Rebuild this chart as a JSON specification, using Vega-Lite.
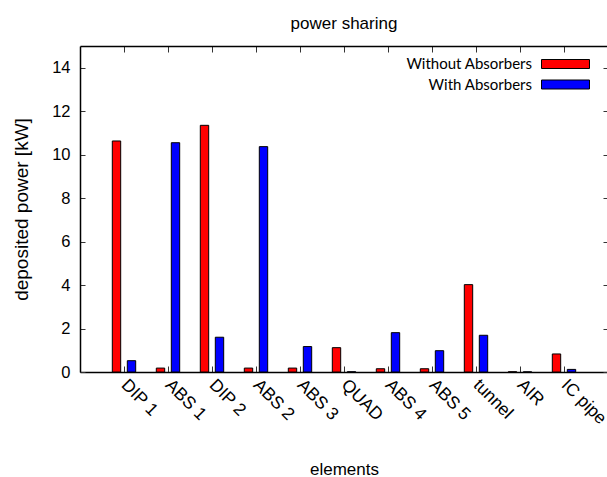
{
  "$schema": "https://vega.github.io/schema/vega-lite/v6.json",
  "autosize": "none",
  "width": 528,
  "height": 326,
  "padding": {"left": 80, "top": 46, "right": 0, "bottom": 105},
  "background": "white",
  "title": {"text": "power sharing", "font": "Liberation Sans", "fontSize": 17, "fontWeight": "normal", "color": "black", "offset": 13},
  "config": {
    "view": {"stroke": null},
    "axis": {"labelFont": "Liberation Sans", "titleFont": "Liberation Sans", "labelColor": "black", "titleColor": "black", "grid": false, "domainColor": "black", "tickColor": "#333"}
  },
  "data": {"values": [
    {"element": "DIP 1", "series": "Without Absorbers", "power": 10.63},
    {"element": "DIP 1", "series": "With Absorbers", "power": 0.52},
    {"element": "ABS 1", "series": "Without Absorbers", "power": 0.18},
    {"element": "ABS 1", "series": "With Absorbers", "power": 10.55},
    {"element": "DIP 2", "series": "Without Absorbers", "power": 11.35},
    {"element": "DIP 2", "series": "With Absorbers", "power": 1.6},
    {"element": "ABS 2", "series": "Without Absorbers", "power": 0.18},
    {"element": "ABS 2", "series": "With Absorbers", "power": 10.37},
    {"element": "ABS 3", "series": "Without Absorbers", "power": 0.18},
    {"element": "ABS 3", "series": "With Absorbers", "power": 1.17},
    {"element": "QUAD", "series": "Without Absorbers", "power": 1.12},
    {"element": "QUAD", "series": "With Absorbers", "power": 0.01},
    {"element": "ABS 4", "series": "Without Absorbers", "power": 0.15},
    {"element": "ABS 4", "series": "With Absorbers", "power": 1.81},
    {"element": "ABS 5", "series": "Without Absorbers", "power": 0.15},
    {"element": "ABS 5", "series": "With Absorbers", "power": 0.98},
    {"element": "tunnel", "series": "Without Absorbers", "power": 4.02},
    {"element": "tunnel", "series": "With Absorbers", "power": 1.69},
    {"element": "AIR", "series": "Without Absorbers", "power": 0.01},
    {"element": "AIR", "series": "With Absorbers", "power": 0.005},
    {"element": "IC pipe", "series": "Without Absorbers", "power": 0.83},
    {"element": "IC pipe", "series": "With Absorbers", "power": 0.12}
  ]},
  "layer": [
    {
      "mark": {"type": "bar", "stroke": "black", "strokeWidth": 1},
      "encoding": {
        "x": {"field": "element", "type": "nominal", "sort": null,
          "scale": {"paddingInner": 0, "paddingOuter": 0.5},
          "axis": {"orient": "bottom", "title": "elements", "titleFontSize": 17, "titleFontWeight": "normal", "titleY": 102, "titleBaseline": "alphabetic",
            "labelAngle": 45, "labelAlign": "left", "labelBaseline": "middle", "labelFontSize": 17.5, "labelPadding": 16,
            "tickSize": -6, "domainWidth": 1.5}},
        "xOffset": {"field": "series", "type": "nominal", "sort": ["Without Absorbers", "With Absorbers"],
          "scale": {"paddingInner": 0.44, "paddingOuter": 0.687}},
        "y": {"field": "power", "type": "quantitative",
          "scale": {"domain": [0, 15], "nice": false},
          "axis": {"orient": "left", "title": "deposited power [kW]", "titleFontSize": 19, "titleFontWeight": "normal", "titleX": -53, "titleBaseline": "alphabetic",
            "values": [0, 2, 4, 6, 8, 10, 12, 14], "labelFontSize": 16.5, "tickSize": -5, "labelPadding": 15, "domainWidth": 1.5}},
        "color": {"field": "series", "type": "nominal",
          "scale": {"domain": ["Without Absorbers", "With Absorbers"], "range": ["#ff0000", "#0000ff"]},
          "legend": {"orient": "none", "legendX": 478, "legendY": 10.5, "title": null,
            "symbolType": "M-4,-0.75H4V0.75H-4Z", "symbolSize": 144, "symbolStrokeColor": "black", "symbolStrokeWidth": 1, "symbolOpacity": 1,
            "labelAlign": "right", "labelOffset": -41, "labelFont": "Lato", "labelFontSize": 15, "labelColor": "black", "rowPadding": 4.5, "padding": 0}}
      }
    },
    {
      "mark": {"type": "bar", "opacity": 0},
      "encoding": {
        "x": {"field": "element", "type": "nominal", "sort": null,
          "axis": {"orient": "top", "title": null, "labels": false, "tickSize": -6, "domainWidth": 1.5}},
        "y": {"field": "power", "type": "quantitative",
          "axis": {"orient": "right", "title": null, "labels": false, "values": [0, 2, 4, 6, 8, 10, 12, 14], "tickSize": -5, "domain": false}}
      }
    }
  ],
  "resolve": {"axis": {"x": "independent", "y": "independent"}}
}
